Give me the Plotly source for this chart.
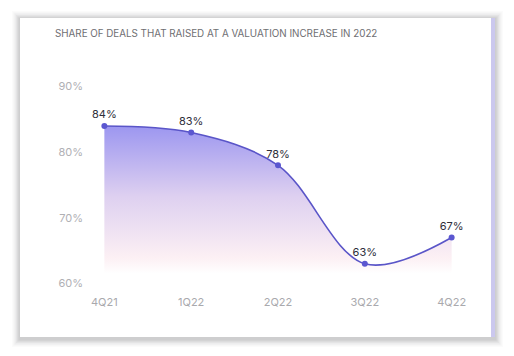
import plotly.graph_objects as go

quarters = ["4Q21", "1Q22", "2Q22", "3Q22", "4Q22"]
share = [84, 83, 78, 63, 67]
labels = ["84%", "83%", "78%", "63%", "67%"]
y_ticks = [60, 70, 80, 90]
y_tick_text = ["60%", "70%", "80%", "90%"]
title = "SHARE OF DEALS THAT RAISED AT A VALUATION INCREASE IN 2022"

W, H = 514, 356
ML, MR, MT, MB = 87, 45, 80, 66
PW, PH = W - ML - MR, H - MT - MB

def px(x):
    return (x - ML) / PW

def py(y):
    return 1 - (y - MT) / PH

fig = go.Figure()
fig.add_trace(go.Scatter(
    x=quarters, y=share, mode="lines+markers+text",
    text=labels, textposition="top center",
    textfont=dict(family="Inter, Roboto, sans-serif", size=11, color="#2e2e3a"),
    line=dict(color="#5a55c8", width=1.6, shape="spline", smoothing=1.0),
    marker=dict(color="#5b57d0", size=6),
    fill="tozeroy",
    fillgradient=dict(type="vertical", start=61.5, stop=85,
                      colorscale=[[0, "rgba(255,255,255,1)"], [0.1, "rgb(252,240,244)"],
                                  [0.5, "rgb(222,208,240)"], [1, "rgb(150,145,240)"]]),
    cliponaxis=False, showlegend=False, hoverinfo="skip",
))

shapes = []
# card shadow (soft)
for i, a in enumerate([0.025, 0.035, 0.045, 0.06, 0.07, 0.08]):
    d = 8 - i * 1.3
    shapes.append(dict(type="rect", xref="paper", yref="paper", layer="below",
                       x0=px(20 - d), x1=px(495 + d), y0=py(337 + d + 2), y1=py(18 - d + 1),
                       line=dict(width=0), fillcolor=f"rgba(80,80,90,{a})"))
shapes.append(dict(type="rect", xref="paper", yref="paper", layer="below",
                   x0=px(490.5), x1=px(495), y0=py(337), y1=py(18),
                   line=dict(width=0), fillcolor="#cbc8ee"))
shapes.append(dict(type="rect", xref="paper", yref="paper", layer="below",
                   x0=px(20), x1=px(491), y0=py(337), y1=py(18),
                   line=dict(width=0), fillcolor="white"))

fig.update_layout(
    width=W, height=H,
    margin=dict(l=ML, r=MR, t=MT, b=MB),
    paper_bgcolor="white", plot_bgcolor="rgba(0,0,0,0)",
    shapes=shapes,
    annotations=[dict(text=title, xref="paper", yref="paper", x=px(53), y=py(34),
                      xanchor="left", yanchor="middle", showarrow=False,
                      font=dict(family="Inter, Roboto, sans-serif", size=9.8, color="#6e6e72"))],
    xaxis=dict(range=[-0.2, 4.2], showgrid=False, zeroline=False, showline=False,
               ticks="", ticklabelstandoff=4,
               tickfont=dict(family="Inter, Roboto, sans-serif", size=11, color="#a9a9ad")),
    yaxis=dict(range=[59, 91], tickvals=y_ticks, ticktext=y_tick_text, showgrid=False,
               zeroline=False, showline=False, ticks="", ticklabelstandoff=3,
               tickfont=dict(family="Inter, Roboto, sans-serif", size=11, color="#b0b0b4")),
)
fig.write_html("out.html", config={"displayModeBar": False},
               post_script="document.body.style.margin='0';document.body.style.overflow='hidden';")
